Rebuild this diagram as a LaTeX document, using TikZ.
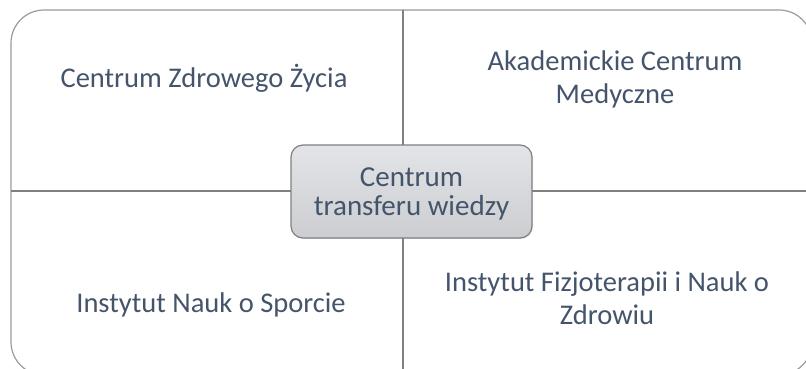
\documentclass[tikz,border=0pt]{standalone}
\usepackage{fontspec}
\setmainfont{Carlito}
\usepackage{xcolor}
\usetikzlibrary{shadows}

\definecolor{labeltext}{HTML}{44546A}
\definecolor{framegray}{HTML}{9A9A9A}
\definecolor{linegray}{HTML}{808080}
\definecolor{hubtop}{HTML}{E3E4E7}
\definecolor{hubbottom}{HTML}{CBCDD1}

\begin{document}
\begin{tikzpicture}[x=1pt,y=-1pt,
  quadtext/.style={text=labeltext,align=center,anchor=base,
    font=\fontsize{28.5}{33}\selectfont},
  hubbox/.style={draw=linegray,line width=1.2pt,rounded corners=12pt,
    top color=hubtop,bottom color=hubbottom,text=labeltext,align=center,
    minimum width=241pt,minimum height=93pt,inner sep=0pt,text depth=0pt,
    font=\fontsize{29}{29}\selectfont,
    drop shadow={opacity=0.2,shadow xshift=1pt,shadow yshift=-1pt}}]

\useasboundingbox (0,0) rectangle (806,369);
\clip (0,0) rectangle (806,369);

% Outer frame, runs past the right and bottom edge
\draw[framegray, line width=1.2pt, rounded corners=33pt] (11,10) rectangle (812,375);

% Quadrant dividers
\draw[linegray, line width=2pt] (403,10) -- (403,375);
\draw[linegray, line width=2pt] (11,191) -- (812,191);

% Quadrant labels (base = last line)
\node[quadtext] (zdrowie) at (204,88) {Centrum Zdrowego Życia};
\node[quadtext] (akademia) at (615,103) {Akademickie Centrum\\Medyczne};
\node[quadtext] (sport) at (211,312) {Instytut Nauk o Sporcie};
\node[quadtext] (fizjo) at (607,324) {Instytut Fizjoterapii i Nauk o\\Zdrowiu};

% Central box
\node[hubbox] (hub) at (411.5,191.5) {Centrum\\transferu wiedzy};

\end{tikzpicture}
\end{document}
